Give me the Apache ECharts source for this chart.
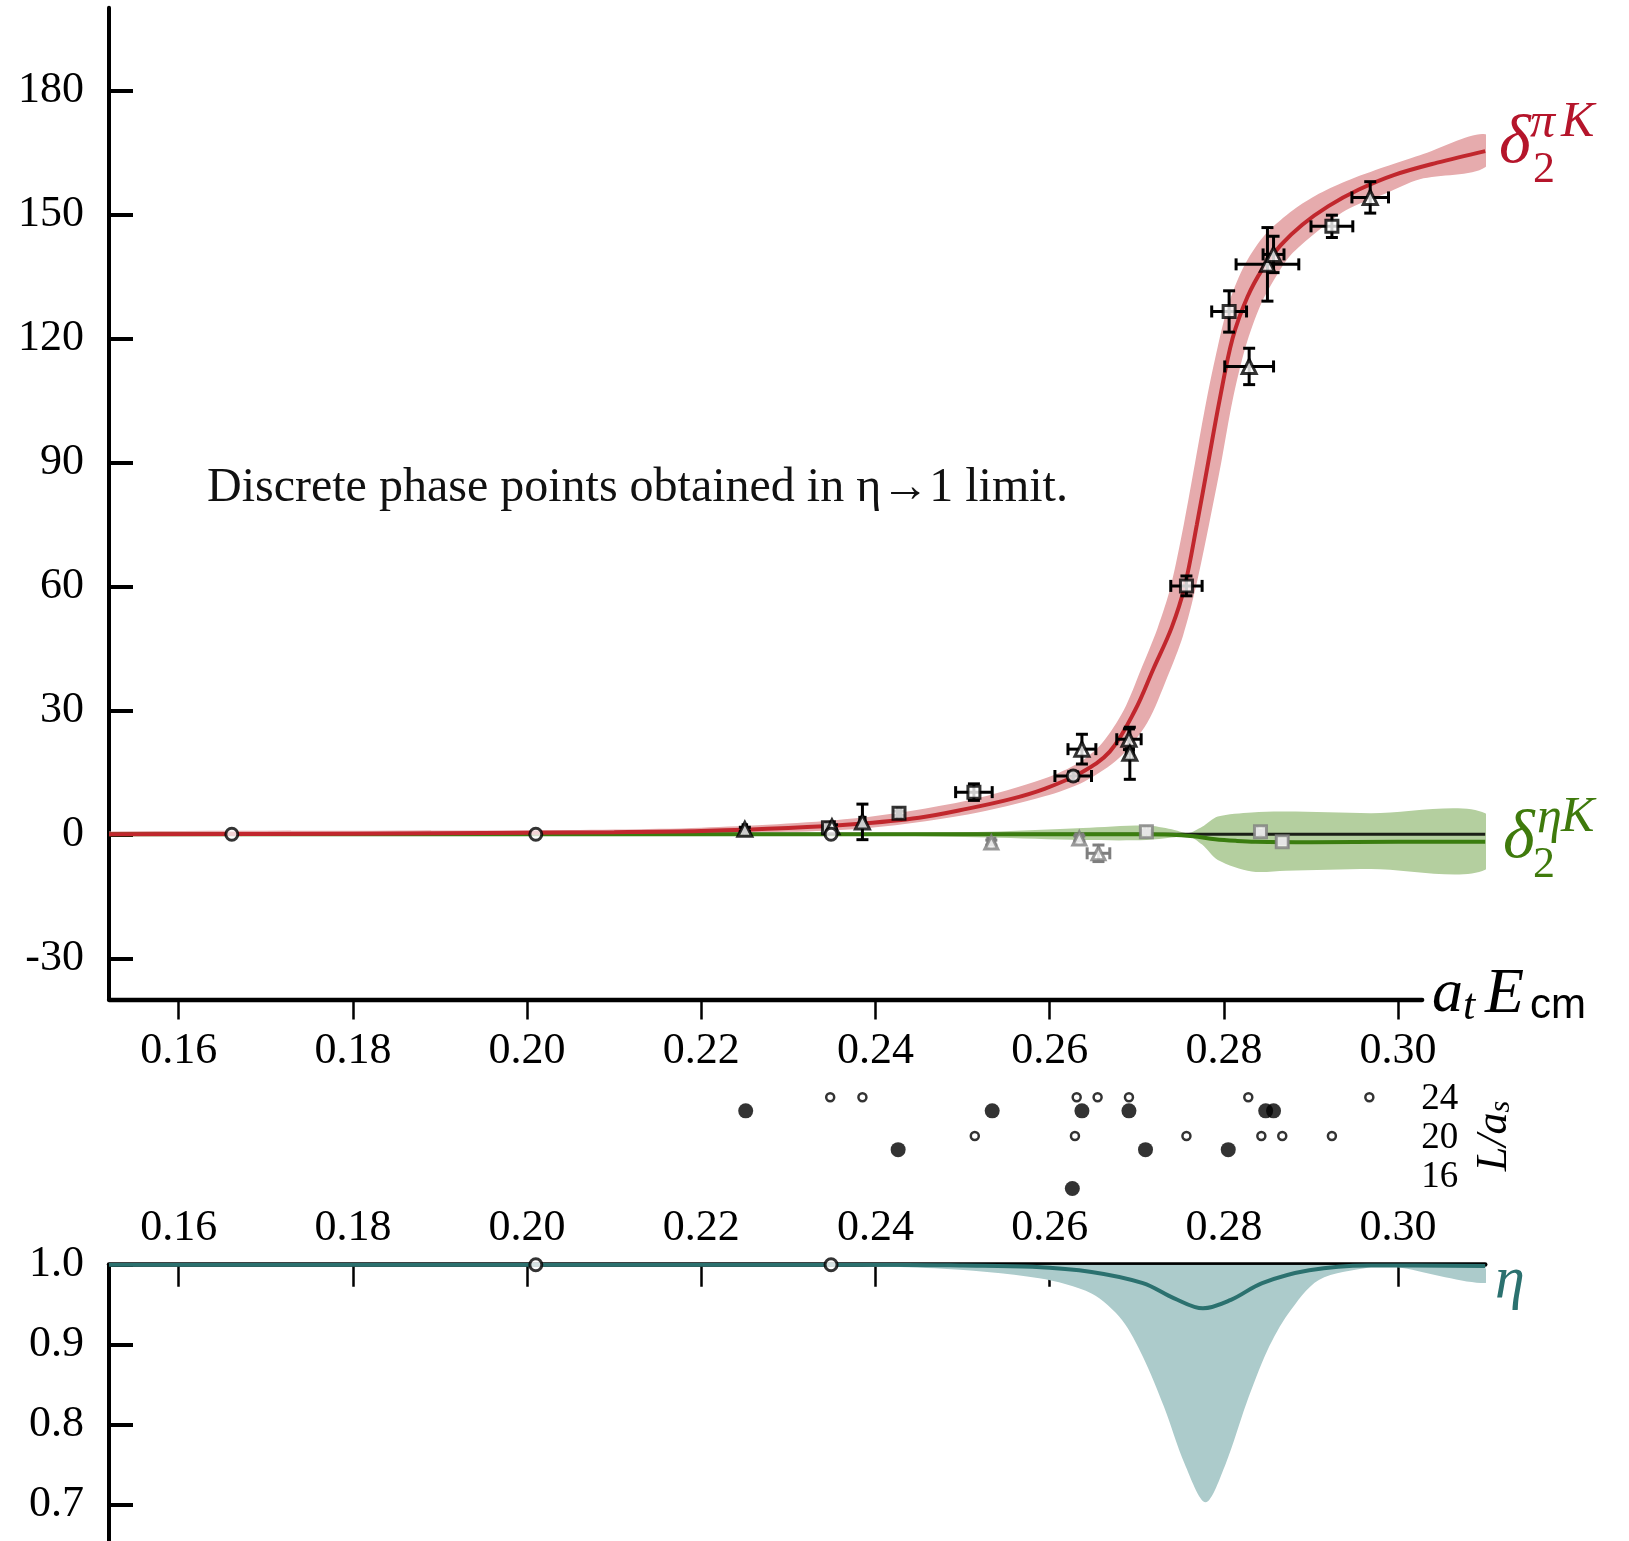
<!DOCTYPE html>
<html><head><meta charset="utf-8">
<script src="https://cdn.jsdelivr.net/npm/echarts@6/dist/echarts.min.js"></script>
<style>html,body{margin:0;padding:0;background:#fff}#c{width:1629px;height:1541px}</style>
</head><body><div id="c"></div>
<script>
// ---------- axes ----------
const xMin = 0.152, xMax = 0.31, xAxisEnd = 0.30275;
const phaseMin = -40, phaseMax = 200;
const etaMin = 0.655, etaMax = 1.0;
const xTicks = [0.16, 0.18, 0.20, 0.22, 0.24, 0.26, 0.28, 0.30];
const phaseTicks = [-30, 0, 30, 60, 90, 120, 150, 180];
const volumeTicks = [16, 20, 24];
const etaTicks = [0.7, 0.8, 0.9, 1.0];

// ---------- delta_2^{piK} fit ----------
const piKCurveX = [0.152,0.18,0.20,0.21,0.22,0.23,0.2374,0.245,0.2506,0.2555,0.2594,0.2635,0.2669,0.2698,0.2719,0.2740,0.2755,0.2769,0.2782,0.2795,0.2810,0.2827,0.2845,0.2865,0.2890,0.2920,0.2955,0.2995,0.3045,0.310];
const piKCurveY = [0,0.15,0.35,0.5,0.8,1.5,2.4,4.0,6.2,8.5,11.0,14.8,20,30,40,50,60,75,90,105,120,130,137,142.5,147.5,152,156,159.5,162.5,165.3];
const piKBandUpX = [0.152,0.20,0.22,0.2374,0.2506,0.2594,0.2635,0.2660,0.2685,0.2705,0.2724,0.2739,0.2754,0.2767,0.2780,0.2793,0.2805,0.2822,0.2845,0.2876,0.2905,0.2940,0.2985,0.3025,0.310];
const piKBandUpY = [0.7,1.0,1.6,3.8,8.2,13.5,17.5,22,30,40,50,60,75,90,105,118,128,137,144.5,150.5,154.5,158,161.5,164.3,169.4];
const piKBandLoX = [0.152,0.20,0.22,0.2374,0.2506,0.2594,0.2640,0.2680,0.2712,0.2735,0.2753,0.2768,0.2783,0.2797,0.2810,0.2825,0.2842,0.2860,0.2876,0.2905,0.2940,0.2985,0.3025,0.310];
const piKBandLoY = [-0.1,0.0,0.3,1.2,4.8,9.2,12.8,18.5,27,38,48,60,75,90,105,118,128,135,140,145.5,151,155,158.5,161.4];

// ---------- delta_2^{etaK} fit ----------
const etaKCurveX = [0.152,0.27,0.274,0.2765,0.279,0.2815,0.2836,0.29,0.30,0.31];
const etaKCurveY = [0,0,-0.1,-0.5,-1.2,-1.6,-1.8,-1.9,-1.8,-1.8];
const etaKBandX  = [0.23,0.2418,0.2529,0.2638,0.2711,0.2740,0.2759,0.2775,0.2793,0.2832,0.2871,0.2968,0.31];
const etaKBandUp = [0.1,0.3,0.6,1.5,2.1,1.2,0.3,1.8,4.3,5.3,5.5,5.1,5.1];
const etaKBandLo = [-0.1,-0.3,-0.8,-1.4,-1.4,-0.8,-0.4,-2.5,-6.2,-9.0,-8.8,-8.4,-8.6];

// ---------- discrete phase points (black) ----------
const sqX = [0.2346,0.2427,0.2513,0.2757,0.2806,0.2924];
const sqY = [1.6,5.1,10.2,60.1,126.5,147.1];
const sqXErr = [0.0003,0.0002,0.0021,0.0018,0.0020,0.0024];
const sqYErr = [0.4,0.5,2.0,2.4,5.0,2.7];
const triX = [0.2250,0.2350,0.2385,0.2637,0.2691,0.2692,0.2829,0.2850,0.2857,0.2968];
const triY = [1.2,1.8,3.0,20.6,23.0,19.6,113.2,137.9,140.3,154.1];
const triXErr = [0.0002,0.0002,0.0003,0.0016,0.0014,0.0004,0.0028,0.0036,0.0012,0.0021];
const triYErr = [0.5,0.5,4.3,3.6,2.5,6.3,4.4,8.9,4.4,3.8];
const circX = [0.2627];
const circY = [14.1];
const circXErr = [0.0021];
const circYErr = [1.0];
// eta -> 1 points on delta = 0
const limitX = [0.1661,0.2010,0.2349];
const limitY = [0,0,0];
// grey points (delta_2^{etaK})
const gTriX = [0.2533,0.2634,0.2656];
const gTriY = [-2.0,-1.0,-4.6];
const gTriXErr = [0.0004,0.0004,0.0013];
const gTriYErr = [0.6,0.6,2.0];
const gSqX = [0.2711,0.2842,0.2867];
const gSqY = [0.6,0.6,-1.8];
const gSqXErr = [0.0002,0.0004,0.0006];
const gSqYErr = [0.3,0.4,0.5];

// ---------- L/a_s volumes ----------
const filledX = [0.2251,0.2426,0.2534,0.2637,0.2626,0.2691,0.2710,0.2805,0.2848,0.2857];
const filledL = [24,20,24,24,16,24,20,20,24,24];
const openX = [0.2348,0.2385,0.2514,0.2631,0.2655,0.2629,0.2691,0.2757,0.2828,0.2843,0.2867,0.2924,0.2967];
const openL = [24,24,20,24,24,20,24,20,24,20,20,20,24];

// ---------- inelasticity eta ----------
const etaCurveX = [0.152,0.24,0.25,0.258,0.2648,0.2707,0.2743,0.2776,0.2808,0.2844,0.2898,0.2965,0.31];
const etaCurveY = [1.0,1.0,0.999,0.9975,0.991,0.977,0.958,0.9455,0.956,0.977,0.993,0.999,0.9985];
const etaBandUpX = [0.2301,0.2980,0.3005,0.31];
const etaBandUpY = [1.0,1.0,0.9995,0.9955];
const etaBandLoX = [0.2301,0.2468,0.2588,0.2648,0.2683,0.2707,0.2731,0.2755,0.2779,0.2802,0.2826,0.2850,0.2874,0.2909,0.2969,0.2985,0.3005,0.31];
const etaBandLoY = [1.0,0.9955,0.983,0.964,0.931,0.885,0.823,0.751,0.703,0.751,0.827,0.893,0.939,0.981,0.997,0.9985,0.996,0.977];
const etaLimitX = [0.2010,0.2349];
const etaLimitY = [1.0,1.0];

// ---------- helpers ----------
const zip = (a, b) => a.map((v, i) => [v, b[i]]);
const zip4 = (a, b, c, d) => a.map((v, i) => [v, b[i], c[i], d[i]]);
const OPEN_OFFSET = 0.2, FILLED_OFFSET = -1.2;
const SERIF = '"Liberation Serif", "DejaVu Serif", serif';

function bandRender(upX, upY, loX, loY, fill) {
  return function (params, api) {
    const pts = [];
    for (let i = 0; i < upX.length; i++) pts.push(api.coord([upX[i], upY[i]]));
    for (let i = loX.length - 1; i >= 0; i--) pts.push(api.coord([loX[i], loY[i]]));
    return { type: 'polygon', shape: { points: pts, smooth: 0.3 }, style: { fill: fill } };
  };
}
function errRender(color) {
  return function (params, api) {
    const x = api.value(0), y = api.value(1), xe = api.value(2), ye = api.value(3);
    const l = api.coord([x - xe, y]), r = api.coord([x + xe, y]);
    const t = api.coord([x, y + ye]), b = api.coord([x, y - ye]);
    const c = 6;
    const st = { stroke: color, lineWidth: 3, fill: null };
    const ln = (x1, y1, x2, y2) => ({ type: 'line', shape: { x1, y1, x2, y2 }, style: st });
    return { type: 'group', children: [
      ln(l[0], l[1], r[0], r[1]), ln(t[0], t[1], b[0], b[1]),
      ln(l[0], l[1] - c, l[0], l[1] + c), ln(r[0], r[1] - c, r[0], r[1] + c),
      ln(t[0] - c, t[1], t[0] + c, t[1]), ln(b[0] - c, b[1], b[0] + c, b[1])
    ] };
  };
}
function txt(text, x, y, font, fill, extra) {
  return Object.assign({ type: 'text', x: x, y: y, silent: true, z: 100,
    style: { text: text, fill: fill, font: font, align: 'left', verticalAlign: 'middle',
             textAlign: 'left', textVerticalAlign: 'middle' } }, extra || {});
}

const labelStyle = { fontFamily: SERIF, fontSize: 44, color: '#000' };
const blackErr = zip4(sqX, sqY, sqXErr, sqYErr).concat(zip4(triX, triY, triXErr, triYErr), zip4(circX, circY, circXErr, circYErr));
const greyErr = zip4(gTriX, gTriY, gTriXErr, gTriYErr).concat(zip4(gSqX, gSqY, gSqXErr, gSqYErr));

const RED = '#c1272d', RED_BAND = '#e6abad', RED_TXT = '#b5152b';
const GREEN = '#3a7d0f', GREEN_BAND = '#b4cf9f', GREEN_TXT = '#3f7a0c';
const TEAL = '#2b716f', TEAL_BAND = '#accbcb';
const GREY = '#7f7f7f';
const SMOOTH = 0.35;

const gridW = 1376.2;
const option = {
  animation: false,
  backgroundColor: '#fff',
  grid: [
    { left: 109, top: 7.7, width: gridW, height: 991.9 },
    { left: 109, top: 1060.4, width: gridW, height: 155.2 },
    { left: 109, top: 1264.7, width: gridW, height: 276 },
    { left: 109, top: 7.7, width: 1313.2, height: 991.9 }
  ],
  xAxis: [
    { type: 'value', gridIndex: 0, min: xMin, max: xMax,
      axisLine: { show: false, onZero: false }, splitLine: { show: false },
      axisTick: { show: true, inside: false, length: 20, lineStyle: { color: '#000', width: 2.5 }, customValues: xTicks },
      axisLabel: Object.assign({ customValues: xTicks, margin: 30, formatter: v => v.toFixed(2) }, labelStyle) },
    { type: 'value', gridIndex: 1, min: xMin, max: xMax, show: false, axisLine: { onZero: false } },
    { type: 'value', gridIndex: 2, min: xMin, max: xMax, position: 'top',
      axisLine: { show: true, onZero: false, lineStyle: { color: '#000', width: 4.5 } }, splitLine: { show: false },
      axisTick: { show: true, inside: true, length: 22, lineStyle: { color: '#000', width: 2.5 }, customValues: xTicks },
      axisLabel: Object.assign({ customValues: xTicks, margin: 14, formatter: v => v.toFixed(2) }, labelStyle) },
    { type: 'value', gridIndex: 3, min: xMin, max: xAxisEnd,
      axisLine: { show: true, onZero: false, lineStyle: { color: '#000', width: 4.3 } },
      axisTick: { show: false }, axisLabel: { show: false }, splitLine: { show: false } }
  ],
  yAxis: [
    { type: 'value', gridIndex: 0, min: phaseMin, max: phaseMax,
      axisLine: { show: true, onZero: false, lineStyle: { color: '#000', width: 4 } }, splitLine: { show: false },
      axisTick: { show: true, inside: true, length: 24, lineStyle: { color: '#000', width: 4 }, customValues: phaseTicks },
      axisLabel: Object.assign({ customValues: phaseTicks, margin: 25, padding: [0, 0, 8, 0] }, labelStyle) },
    { type: 'value', gridIndex: 1, min: 12, max: 28, position: 'right',
      axisLine: { show: false, onZero: false }, axisTick: { show: false }, splitLine: { show: false },
      axisLabel: { customValues: volumeTicks, inside: true, margin: 27, fontFamily: SERIF, fontSize: 37, color: '#000' } },
    { type: 'value', gridIndex: 2, min: etaMin, max: etaMax,
      axisLine: { show: true, onZero: false, lineStyle: { color: '#000', width: 4 } }, splitLine: { show: false },
      axisTick: { show: true, inside: true, length: 24, lineStyle: { color: '#000', width: 4 }, customValues: etaTicks },
      axisLabel: Object.assign({ customValues: etaTicks, margin: 25, padding: [0, 0, 8, 0], formatter: v => v.toFixed(1) }, labelStyle) },
    { type: 'value', gridIndex: 3, min: phaseMin, max: phaseMax, show: false, axisLine: { onZero: false } }
  ],
  series: [
    { type: 'custom', xAxisIndex: 0, yAxisIndex: 0, z: 1, clip: true, silent: true,
      data: [[xMin, 0]], renderItem: bandRender(piKBandUpX, piKBandUpY, piKBandLoX, piKBandLoY, RED_BAND) },
    { type: 'custom', xAxisIndex: 0, yAxisIndex: 0, z: 1, clip: true, silent: true,
      data: [[xMin, 0]], renderItem: bandRender(etaKBandX, etaKBandUp, etaKBandX, etaKBandLo, GREEN_BAND) },
    { type: 'line', xAxisIndex: 0, yAxisIndex: 0, z: 2, showSymbol: false, silent: true,
      data: [[xMin, 0], [xMax, 0]], lineStyle: { color: '#1b1f17', width: 3 } },
    { type: 'line', xAxisIndex: 0, yAxisIndex: 0, z: 3, showSymbol: false, silent: true, smooth: SMOOTH,
      data: zip(etaKCurveX, etaKCurveY), lineStyle: { color: GREEN, width: 4 } },
    { type: 'line', xAxisIndex: 0, yAxisIndex: 0, z: 3, showSymbol: false, silent: true, smooth: SMOOTH,
      data: zip(piKCurveX, piKCurveY), lineStyle: { color: RED, width: 4 } },
    { type: 'custom', xAxisIndex: 0, yAxisIndex: 0, z: 4, silent: true, data: greyErr, renderItem: errRender(GREY) },
    { type: 'custom', xAxisIndex: 0, yAxisIndex: 0, z: 4, silent: true, data: blackErr, renderItem: errRender('#000') },
    { type: 'scatter', xAxisIndex: 0, yAxisIndex: 0, z: 5, symbol: 'rect', symbolSize: 12, silent: true,
      data: zip(gSqX, gSqY), itemStyle: { color: '#fff', borderColor: GREY, borderWidth: 3 } },
    { type: 'scatter', xAxisIndex: 0, yAxisIndex: 0, z: 5, symbol: 'triangle', symbolSize: 13, silent: true,
      data: zip(gTriX, gTriY), itemStyle: { color: '#fff', borderColor: GREY, borderWidth: 3 } },
    { type: 'scatter', xAxisIndex: 0, yAxisIndex: 0, z: 5, symbol: 'rect', symbolSize: 12, silent: true,
      data: zip(sqX, sqY), itemStyle: { color: '#fff', borderColor: '#000', borderWidth: 3 } },
    { type: 'scatter', xAxisIndex: 0, yAxisIndex: 0, z: 5, symbol: 'triangle', symbolSize: 14, silent: true,
      data: zip(triX, triY), itemStyle: { color: '#fff', borderColor: '#000', borderWidth: 3 } },
    { type: 'scatter', xAxisIndex: 0, yAxisIndex: 0, z: 5, symbol: 'circle', symbolSize: 12, silent: true,
      data: zip(circX, circY).concat(zip(limitX, limitY)), itemStyle: { color: '#fff', borderColor: '#000', borderWidth: 3 } },
    // L/a_s panel
    { type: 'scatter', xAxisIndex: 1, yAxisIndex: 1, symbol: 'circle', symbolSize: 8, silent: true,
      data: openX.map((x, i) => [x, openL[i] + OPEN_OFFSET]), itemStyle: { color: '#fff', borderColor: '#000', borderWidth: 2.5 } },
    { type: 'scatter', xAxisIndex: 1, yAxisIndex: 1, symbol: 'circle', symbolSize: 15, silent: true,
      data: filledX.map((x, i) => [x, filledL[i] + FILLED_OFFSET]), itemStyle: { color: '#000' } },
    // eta panel
    { type: 'custom', xAxisIndex: 2, yAxisIndex: 2, z: 1, clip: true, silent: true,
      data: [[xMin, 1]], renderItem: bandRender(etaBandUpX, etaBandUpY, etaBandLoX, etaBandLoY, TEAL_BAND) },
    { type: 'line', xAxisIndex: 2, yAxisIndex: 2, z: 3, showSymbol: false, silent: true, smooth: SMOOTH,
      data: zip(etaCurveX, etaCurveY), lineStyle: { color: TEAL, width: 4 } },
    { type: 'scatter', xAxisIndex: 2, yAxisIndex: 2, z: 5, symbol: 'circle', symbolSize: 12, silent: true,
      data: zip(etaLimitX, etaLimitY), itemStyle: { color: '#fff', borderColor: '#000', borderWidth: 3 } }
  ],
  graphic: [
    txt('Discrete phase points obtained in η→1 limit.', 207, 488, '48px ' + SERIF, '#111'),
    txt('δ', 1499, 144, 'italic 68px ' + SERIF, RED_TXT),
    txt('π', 1530, 124, 'italic 50px ' + SERIF, RED_TXT),
    txt('K', 1561, 123, 'italic 50px ' + SERIF, RED_TXT),
    txt('2', 1533, 170, '44px ' + SERIF, RED_TXT),
    txt('δ', 1503, 839, 'italic 68px ' + SERIF, GREEN_TXT),
    txt('η', 1537, 819, 'italic 50px ' + SERIF, GREEN_TXT),
    txt('K', 1561, 818, 'italic 50px ' + SERIF, GREEN_TXT),
    txt('2', 1533, 865, '44px ' + SERIF, GREEN_TXT),
    txt('η', 1495, 1281, 'italic 60px ' + SERIF, TEAL),
    txt('a', 1432, 995, 'italic 62px ' + SERIF, '#000'),
    txt('t', 1463, 1007, 'italic 44px ' + SERIF, '#000'),
    txt('E', 1485, 995, 'italic 64px ' + SERIF, '#000'),
    txt('cm', 1530, 1006, '42px "Liberation Sans", sans-serif', '#000'),
    { type: 'text', x: 1494, y: 1136, rotation: Math.PI / 2, silent: true, z: 100,
      style: { text: '{a|L/a}{b|s}', align: 'center', verticalAlign: 'middle', textAlign: 'center', textVerticalAlign: 'middle',
        rich: { a: { fontFamily: SERIF, fontStyle: 'italic', fontSize: 44, fill: '#000', color: '#000', lineHeight: 44, verticalAlign: 'middle' },
                b: { fontFamily: SERIF, fontStyle: 'italic', fontSize: 30, fill: '#000', color: '#000', lineHeight: 14, verticalAlign: 'bottom' } } } }
  ]
};
const chart = echarts.init(document.getElementById('c'), null, { renderer: 'canvas' });
chart.setOption(option);
</script></body></html>
